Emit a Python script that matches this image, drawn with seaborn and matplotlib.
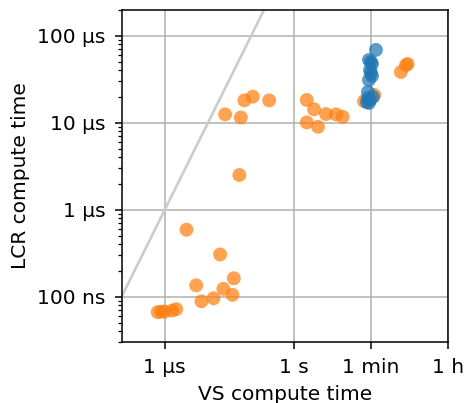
import numpy as np
import pandas as pd
import matplotlib
matplotlib.use("Agg")
import matplotlib.pyplot as plt
import matplotlib.ticker as mticker
import seaborn as sns

# VS compute time (s) and LCR compute time (s)
orange_vs = [0.000685, 0.000826, 0.0010, 0.00148, 0.00184,
             0.00318, 0.0191, 0.0397, 0.00533, 0.0228, 0.0368, 0.0134, 0.00706,
             0.0534,
             0.025, 0.0577, 0.0698, 0.109, 0.261,
             1.94, 2.86, 1.94, 3.54, 5.42, 9.25, 13.2,
             41.1, 71.1,
             295, 385, 422]
orange_lcr = [6.64e-8, 6.73e-8, 6.73e-8, 6.92e-8, 7.19e-8,
              5.89e-7, 3.06e-7, 1.63e-7, 1.35e-7, 1.23e-7, 1.05e-7, 9.6e-8, 8.85e-8,
              2.51e-6,
              1.25e-5, 1.15e-5, 1.81e-5, 2.0e-5, 1.81e-5,
              1.83e-5, 1.43e-5, 1.01e-5, 9.0e-6, 1.26e-5, 1.25e-5, 1.17e-5,
              1.77e-5, 2.09e-5,
              3.84e-5, 4.59e-5, 4.75e-5]
blue_vs = [77.8, 53.6, 59.7, 63.0, 56.6, 59.7, 63.0, 53.6,
           50.8, 66.4, 50.8, 56.6, 48.2, 53.6]
blue_lcr = [6.9e-5, 5.29e-5, 5.01e-5, 4.75e-5, 4.05e-5, 3.74e-5, 3.46e-5, 3.11e-5,
            2.26e-5, 1.98e-5, 1.93e-5, 1.83e-5, 1.73e-5, 1.69e-5]

x_ticks = [1e-3, 1, 60, 3600]
x_labels = ["1 µs", "1 s", "1 min", "1 h"]
y_ticks = [1e-7, 1e-6, 1e-5, 1e-4]
y_labels = ["100 ns", "1 µs", "10 µs", "100 µs"]
diag_x = [1e-4, 1.0]
diag_y = [1e-7, 1e-3]

df = pd.DataFrame({
    "vs": orange_vs + blue_vs,
    "lcr": orange_lcr + blue_lcr,
    "group": ["orange"] * len(orange_vs) + ["blue"] * len(blue_vs),
})

fig = plt.figure(figsize=(4.66, 4.03), dpi=100)
ax = fig.add_axes([0.261, 0.151, 0.700, 0.825])

ax.set_xscale("log")
ax.set_yscale("log")
ax.plot(diag_x, diag_y, color="#cccccc", lw=1.9, zorder=1)

sns.scatterplot(data=df, x="vs", y="lcr", hue="group",
                palette={"orange": "#ff7f0e", "blue": "#1f77b4"},
                s=100, alpha=0.72, linewidth=0, legend=False, ax=ax, zorder=3)

ax.set_xlim(1e-4, 3600)
ax.set_ylim(3e-8, 2e-4)
ax.xaxis.set_major_locator(mticker.FixedLocator(x_ticks))
ax.xaxis.set_major_formatter(mticker.FixedFormatter(x_labels))
ax.xaxis.set_minor_locator(mticker.NullLocator())
ax.yaxis.set_major_locator(mticker.FixedLocator(y_ticks))
ax.yaxis.set_major_formatter(mticker.FixedFormatter(y_labels))
ax.yaxis.set_minor_locator(mticker.LogLocator(base=10, subs=np.arange(2, 10)))
ax.yaxis.set_minor_formatter(mticker.NullFormatter())

ax.grid(True, which="major", color="#b0b0b0", lw=1.1, zorder=0)
ax.set_axisbelow(True)
ax.tick_params(labelsize=14.5, length=5, width=1.1, pad=6.5)
ax.tick_params(which="minor", length=3, width=0.9)
for sp in ax.spines.values():
    sp.set_linewidth(1.1)
ax.set_xlabel("VS compute time", fontsize=14.5, labelpad=5.5)
ax.set_ylabel("LCR compute time", fontsize=14.5, labelpad=5)

fig.savefig("out.png", dpi=100)
